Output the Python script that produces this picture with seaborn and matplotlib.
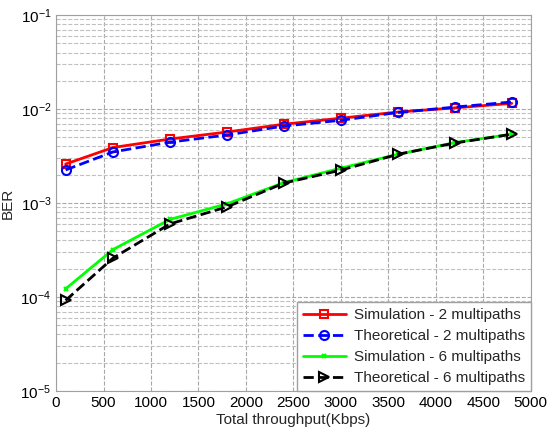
import numpy as np
import pandas as pd
import matplotlib
matplotlib.use('Agg')
import matplotlib.pyplot as plt
import seaborn as sns

throughput = [100, 600, 1200, 1800, 2400, 3000, 3600, 4200, 4800]
sim_2 = [2.6e-3, 3.9e-3, 4.8e-3, 5.7e-3, 6.9e-3, 8.0e-3, 9.3e-3, 1.03e-2, 1.15e-2]
theo_2 = [2.25e-3, 3.5e-3, 4.45e-3, 5.3e-3, 6.6e-3, 7.6e-3, 9.2e-3, 1.05e-2, 1.19e-2]
sim_6 = [1.22e-4, 3.2e-4, 6.7e-4, 9.8e-4, 1.65e-3, 2.35e-3, 3.3e-3, 4.4e-3, 5.4e-3]
theo_6 = [9.2e-5, 2.6e-4, 6.0e-4, 9.1e-4, 1.63e-3, 2.24e-3, 3.3e-3, 4.35e-3, 5.4e-3]
labels = ['Simulation - 2 multipaths', 'Theoretical - 2 multipaths',
          'Simulation - 6 multipaths', 'Theoretical - 6 multipaths']

sns.set_style('white')
plt.rcParams['font.family'] = ['Liberation Sans', 'DejaVu Sans']

fig = plt.figure(figsize=(5.5, 4.32), dpi=100)
ax = fig.add_axes([0.102, 0.095, 0.863, 0.87])

estilos = [
    dict(color='#ff0000', linestyle='-', marker='s', markersize=6, mfc='none', mec='#ff0000', mew=1.5),
    dict(color='#0000ff', linestyle='--', marker='o', markersize=6.5, mfc='none', mec='#0000ff', mew=1.5),
    dict(color='#00ff00', linestyle='-', marker='x', markersize=3.5, mec='#00ff00', mew=1.5),
    dict(color='#000000', linestyle='--', marker='>', markersize=7.5, mfc='none', mec='#000000', mew=1.5),
]
for serie, nome, est in zip([sim_2, theo_2, sim_6, theo_6], labels, estilos):
    df = pd.DataFrame({'x': throughput, 'y': serie})
    sns.lineplot(data=df, x='x', y='y', ax=ax, label=nome, linewidth=2, **est)

ax.set_yscale('log')
ax.set_xlim(0, 5000)
ax.set_ylim(1e-5, 1e-1)
ax.set_xticks(np.arange(0, 5001, 500))
ax.grid(True, which='major', linestyle='--', color='#a8a8a8', linewidth=0.8)
ax.grid(True, which='minor', axis='y', linestyle='--', color='#c0c0c0', linewidth=0.8)
for s in ax.spines.values():
    s.set_color('#a0a0a0')
ax.tick_params(axis='both', which='both', labelsize=11, colors='black')
ax.tick_params(axis='both', which='both', length=3, color='#a0a0a0', direction='in')
ax.tick_params(axis='y', which='minor', length=0)

ax.set_xlabel('Total throughput(Kbps)', fontsize=11, labelpad=2)
ax.set_ylabel('BER', fontsize=11)

leg = ax.legend(loc='lower right', borderaxespad=0, fontsize=11, fancybox=False,
                handlelength=2.8, handletextpad=0.5, framealpha=1, edgecolor='#a0a0a0',
                labelspacing=0.45)

fig.savefig('out.png', dpi=100)
